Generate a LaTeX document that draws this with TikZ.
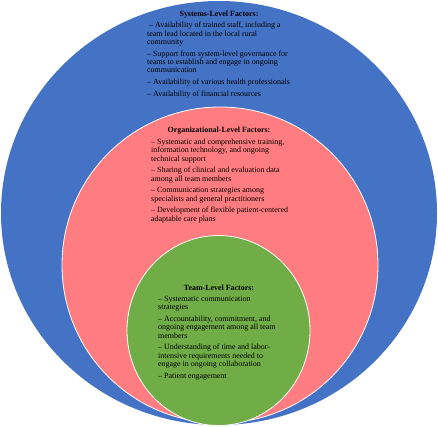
\documentclass[tikz,border=0pt]{standalone}
\usepackage{fontspec}
\setmainfont{Liberation Serif}
\definecolor{sysblue}{HTML}{4472C4}
\definecolor{orgpink}{HTML}{FF7C80}
\definecolor{teamgreen}{HTML}{70AD47}
\begin{document}
\begin{tikzpicture}[x=1pt,y=-1pt,
  txt/.style={font=\fontsize{7.95}{8.33}\selectfont, align=left, inner sep=0pt, anchor=north west},
  ttl/.style={font=\fontsize{7.95}{8.33}\selectfont\bfseries, inner sep=0pt},
  ring/.style={draw=white, line width=0.8pt}]
\useasboundingbox (0,0) rectangle (438,427);
\fill[sysblue] (219,213) ellipse [x radius=218pt, y radius=212pt];
\filldraw[ring, fill=orgpink] (220,265) ellipse [x radius=158pt, y radius=158pt];
\filldraw[ring, fill=teamgreen] (218.5,330.5) ellipse [x radius=91.5pt, y radius=95pt];

\node[ttl] (systitle) at (219,14.5) {Systems-Level Factors:};
\node[txt] (sysitems) at (147,22) {\ – Availability of trained staff, including a\\
team lead located in the local rural\\
community\\[3.4pt]
– Support from system-level governance for\\
teams to establish and engage in ongoing\\
communication\\[3.4pt]
– Availability of various health professionals\\[3.4pt]
– Availability of financial resources};

\node[ttl] (orgtitle) at (219,130.5) {Organizational-Level Factors:};
\node[txt] (orgitems) at (151,138.7) {– Systematic and comprehensive training,\\
information technology, and ongoing\\
technical support\\[3.4pt]
– Sharing of clinical and evaluation data\\
among all team members\\[3.4pt]
– Communication strategies among\\
specialists and general practitioners\\[3.4pt]
– Development of flexible patient-centered\\
adaptable care plans};

\node[ttl] (teamtitle) at (219,287.5) {Team-Level Factors:};
\node[txt] (teamitems) at (158,296) {– Systematic communication\\
strategies\\[3.4pt]
– Accountability, commitment, and\\
ongoing engagement among all team\\
members\\[3.4pt]
– Understanding of time and labor-\\
intensive requirements needed to\\
engage in ongoing collaboration\\[3.4pt]
– Patient engagement};
\end{tikzpicture}
\end{document}
